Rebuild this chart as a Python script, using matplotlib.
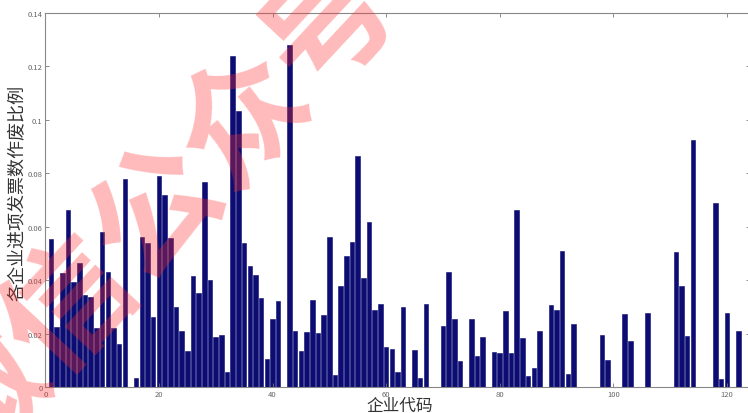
import matplotlib
matplotlib.use("Agg")
import matplotlib.pyplot as plt
import numpy as np

plt.rcParams['font.family'] = ['Noto Sans CJK SC', 'DejaVu Sans']

# Enterprise codes 1..123 and the share of voided input invoices for each
codes = list(range(1, 124))
ratios = [
    0.0555, 0.0226, 0.0427, 0.0663, 0.0392, 0.0463, 0.0346, 0.0338, 0.0220, 0.0580,
    0.0430, 0.0220, 0.0160, 0.0779, 0.0000, 0.0035, 0.0560, 0.0540, 0.0263, 0.0789,
    0.0720, 0.0558, 0.0300, 0.0210, 0.0135, 0.0417, 0.0351, 0.0769, 0.0400, 0.0186,
    0.0195, 0.0055, 0.1238, 0.1032, 0.0539, 0.0452, 0.0420, 0.0333, 0.0105, 0.0255,
    0.0321, 0.0000, 0.1280, 0.0208, 0.0134, 0.0205, 0.0324, 0.0203, 0.0270, 0.0560,
    0.0044, 0.0378, 0.0490, 0.0542, 0.0864, 0.0408, 0.0616, 0.0290, 0.0310, 0.0149,
    0.0142, 0.0057, 0.0298, 0.0000, 0.0137, 0.0035, 0.0310, 0.0000, 0.0000, 0.0230,
    0.0430, 0.0255, 0.0099, 0.0000, 0.0255, 0.0117, 0.0186, 0.0000, 0.0130, 0.0126,
    0.0286, 0.0129, 0.0664, 0.0185, 0.0042, 0.0071, 0.0211, 0.0000, 0.0307, 0.0288,
    0.0510, 0.0047, 0.0235, 0.0000, 0.0000, 0.0000, 0.0000, 0.0195, 0.0102, 0.0000,
    0.0000, 0.0273, 0.0173, 0.0000, 0.0000, 0.0277, 0.0000, 0.0000, 0.0000, 0.0000,
    0.0504, 0.0377, 0.0192, 0.0925, 0.0000, 0.0000, 0.0000, 0.0689, 0.0030, 0.0277,
    0.0000, 0.0208, 0.0000,
]
x_ticks = [0, 20, 40, 60, 80, 100, 120]
y_ticks = [0, 0.02, 0.04, 0.06, 0.08, 0.1, 0.12, 0.14]
y_tick_labels = ['0', '0.02', '0.04', '0.06', '0.08', '0.1', '0.12', '0.14']

W, H = 748, 414
fig = plt.figure(figsize=(W / 100, H / 100), dpi=100)
ax = fig.add_axes([45.3 / W, 26 / H, 124 * 5.68 / W, 374 / H])

ax.bar(codes, ratios, width=0.8, color='#0c0c72', edgecolor='#0c0c72', linewidth=0.4)

ax.set_xlim(0, 124)
ax.set_ylim(0, 0.14)
ax.set_xticks(x_ticks)
ax.set_yticks(y_ticks)
ax.set_yticklabels(y_tick_labels)
ax.tick_params(direction='in', length=3, width=0.6, colors='#777777',
               labelsize=5.5, labelcolor='#666666',
               top=True, right=True, pad=2)
for s in ax.spines.values():
    s.set_color('#888888')
    s.set_linewidth(0.8)

fig.text(18 / W, 1 - 193 / H, '各企业进项发票数作废比例', rotation=90,
         ha='center', va='center', fontsize=13, color='#333333')
fig.text(400 / W, 1 - 406 / H, '企业代码', ha='center', va='center',
         fontsize=12, color='#333333')

# translucent red watermark across the upper-left part
fig.text(160 / W, 1 - 215 / H, '微信公众号', rotation=47, ha='center', va='center',
         fontsize=92, fontweight='bold', color='#ff3030', alpha=0.33, zorder=10)

fig.savefig('out.png', dpi=100)
